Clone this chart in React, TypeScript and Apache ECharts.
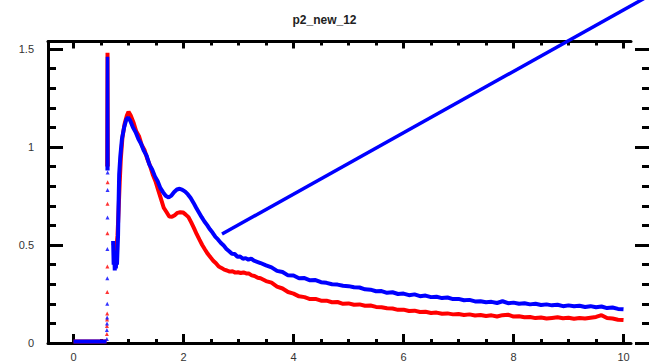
import React, { useEffect, useRef } from "react";
import * as echarts from "echarts";

const titleText = "p2_new_12";

const xMajor = [0, 2, 4, 6, 8, 10];
const xMinor = [0.5, 1, 1.5, 2.5, 3, 3.5, 4.5, 5, 5.5, 6.5, 7, 7.5, 8.5, 9, 9.5];
const yMajor = [0, 0.5, 1, 1.5];
const yMinor = [0.1, 0.2, 0.3, 0.4, 0.6, 0.7, 0.8, 0.9, 1.1, 1.2, 1.3, 1.4];

const redBase = [[0, 0.008], [0.6, 0.008]];
const blueBase = [[0, 0.008], [0.6, 0.008]];

const redSpike = [[0.612, 0.9], [0.618, 1.48], [0.624, 0.9]];
const blueSpike = [[0.612, 0.88], [0.618, 1.46], [0.624, 0.88]];

const redDots = [
  [0.606, 0.046], [0.608, 0.087], [0.61, 0.12], [0.612, 0.15], [0.613, 0.26],
  [0.615, 0.39], [0.617, 0.56], [0.618, 0.71], [0.62, 0.82],
];
const blueDots = [
  [0.606, 0.02], [0.607, 0.066], [0.609, 0.1], [0.611, 0.13], [0.613, 0.2],
  [0.614, 0.33], [0.616, 0.48], [0.618, 0.64], [0.619, 0.78], [0.62, 0.87],
];

const redCurve = [
  [0.72, 0.51], [0.74, 0.5], [0.76, 0.46], [0.78, 0.48], [0.8, 0.55], [0.82, 0.68],
  [0.84, 0.82], [0.86, 0.94], [0.89, 1.05], [0.93, 1.12], [0.97, 1.16], [1.0, 1.18],
  [1.04, 1.16], [1.09, 1.125], [1.14, 1.08], [1.19, 1.055], [1.24, 1.01], [1.29, 0.985],
  [1.34, 0.94], [1.39, 0.905], [1.44, 0.86], [1.49, 0.825], [1.54, 0.78], [1.59, 0.735],
  [1.64, 0.69], [1.69, 0.668], [1.74, 0.645], [1.79, 0.644], [1.84, 0.652], [1.89, 0.664],
  [1.94, 0.667], [1.99, 0.666], [2.04, 0.655], [2.09, 0.642], [2.14, 0.615], [2.19, 0.586],
  [2.24, 0.555], [2.29, 0.527], [2.34, 0.5], [2.39, 0.477], [2.44, 0.455], [2.49, 0.437],
  [2.54, 0.42], [2.59, 0.407], [2.64, 0.39], [2.69, 0.383], [2.74, 0.374], [2.79, 0.37],
  [2.84, 0.364], [2.89, 0.366], [2.94, 0.359], [2.99, 0.361], [3.04, 0.357], [3.09, 0.36],
  [3.14, 0.355], [3.19, 0.354], [3.24, 0.345], [3.29, 0.342], [3.35, 0.333],
  [3.4, 0.33], [3.5, 0.316], [3.6, 0.308], [3.7, 0.288], [3.8, 0.278], [3.9, 0.26],
  [4.0, 0.252], [4.1, 0.238], [4.2, 0.234], [4.3, 0.224], [4.4, 0.225], [4.5, 0.216],
  [4.6, 0.216], [4.7, 0.208], [4.8, 0.209], [4.9, 0.2], [5.0, 0.202], [5.1, 0.195],
  [5.2, 0.197], [5.3, 0.19], [5.4, 0.191], [5.5, 0.184], [5.6, 0.182], [5.7, 0.177],
  [5.8, 0.176], [5.9, 0.169], [6.0, 0.17], [6.1, 0.163], [6.2, 0.165], [6.3, 0.158],
  [6.4, 0.159], [6.5, 0.153], [6.6, 0.155], [6.7, 0.149], [6.8, 0.151], [6.9, 0.146],
  [7.0, 0.148], [7.1, 0.143], [7.2, 0.146], [7.3, 0.14], [7.4, 0.143], [7.5, 0.138],
  [7.6, 0.141], [7.7, 0.135], [7.8, 0.142], [7.9, 0.144], [8.0, 0.135], [8.1, 0.136],
  [8.2, 0.131], [8.3, 0.133], [8.4, 0.127], [8.5, 0.13], [8.6, 0.125], [8.7, 0.128],
  [8.8, 0.131], [8.9, 0.126], [9.0, 0.129], [9.1, 0.124], [9.2, 0.128], [9.3, 0.125],
  [9.4, 0.129], [9.5, 0.133], [9.6, 0.142], [9.7, 0.127], [9.8, 0.125], [9.9, 0.119],
  [10.0, 0.117],
];

const blueCurve = [
  [0.72, 0.52], [0.73, 0.4], [0.74, 0.47], [0.75, 0.37], [0.76, 0.45], [0.77, 0.38],
  [0.78, 0.44], [0.79, 0.4], [0.81, 0.55], [0.82, 0.72], [0.83, 0.86], [0.85, 0.95],
  [0.88, 1.04], [0.92, 1.1], [0.96, 1.14], [0.99, 1.15], [1.03, 1.135], [1.08, 1.1],
  [1.13, 1.075], [1.18, 1.04], [1.23, 1.015], [1.28, 0.98], [1.33, 0.955], [1.38, 0.91],
  [1.43, 0.885], [1.48, 0.85], [1.53, 0.825], [1.58, 0.79], [1.63, 0.768], [1.68, 0.75],
  [1.73, 0.743], [1.78, 0.752], [1.83, 0.77], [1.88, 0.783], [1.93, 0.787], [1.98, 0.781],
  [2.03, 0.772], [2.08, 0.758], [2.13, 0.74], [2.18, 0.716], [2.23, 0.69], [2.28, 0.666],
  [2.33, 0.642], [2.38, 0.62], [2.43, 0.601], [2.48, 0.58], [2.53, 0.562], [2.58, 0.541],
  [2.63, 0.527], [2.68, 0.51], [2.73, 0.497], [2.78, 0.48], [2.83, 0.468], [2.88, 0.455],
  [2.93, 0.454], [2.98, 0.44], [3.03, 0.441], [3.08, 0.43], [3.13, 0.433], [3.18, 0.425],
  [3.23, 0.43], [3.28, 0.42], [3.35, 0.413],
  [3.4, 0.408], [3.5, 0.396], [3.6, 0.386], [3.7, 0.368], [3.8, 0.362], [3.9, 0.345],
  [4.0, 0.344], [4.1, 0.33], [4.2, 0.331], [4.3, 0.32], [4.4, 0.321], [4.5, 0.31],
  [4.6, 0.307], [4.7, 0.3], [4.8, 0.298], [4.9, 0.292], [5.0, 0.29], [5.1, 0.284],
  [5.2, 0.283], [5.3, 0.274], [5.4, 0.272], [5.5, 0.264], [5.6, 0.265], [5.7, 0.256],
  [5.8, 0.259], [5.9, 0.25], [6.0, 0.252], [6.1, 0.244], [6.2, 0.248], [6.3, 0.239],
  [6.4, 0.242], [6.5, 0.234], [6.6, 0.236], [6.7, 0.229], [6.8, 0.232], [6.9, 0.224],
  [7.0, 0.225], [7.1, 0.218], [7.2, 0.22], [7.3, 0.212], [7.4, 0.213], [7.5, 0.208],
  [7.6, 0.21], [7.7, 0.204], [7.8, 0.213], [7.9, 0.203], [8.0, 0.206], [8.1, 0.2],
  [8.2, 0.203], [8.3, 0.197], [8.4, 0.2], [8.5, 0.194], [8.6, 0.197], [8.7, 0.192],
  [8.8, 0.195], [8.9, 0.188], [9.0, 0.192], [9.1, 0.187], [9.2, 0.19], [9.3, 0.184],
  [9.4, 0.188], [9.5, 0.182], [9.6, 0.186], [9.7, 0.178], [9.8, 0.181], [9.9, 0.174],
  [10.0, 0.172],
];

const blueSegment = [[2.7, 0.556], [10.6, 1.793]];

const X_MIN = -0.464;
const X_MAX = 10.136;
const Y_MIN = 0;
const Y_MAX = 1.538;
const GRID_LEFT = 48;
const GRID_WIDTH = 583;
const WIDE_WIDTH = 660;
const X_MAX_WIDE = X_MIN + ((X_MAX - X_MIN) * WIDE_WIDTH) / GRID_WIDTH;

const RED = "#ff0000";
const BLUE = "#0000ff";
const FONT = "Liberation Sans, Arial, sans-serif";

export default function App() {
  const ref = useRef<HTMLDivElement>(null);

  useEffect(() => {
    if (!ref.current) return;
    const chart = echarts.init(ref.current, null, { renderer: "svg" });

    const black = "#000";
    const xAxisBase = (position: string, show: boolean) => ({
      type: "value",
      gridIndex: 0,
      min: X_MIN,
      max: X_MAX,
      position,
      splitLine: { show: false },
      axisLine: { show, onZero: false, lineStyle: { color: black, width: 3 } },
    });
    const yAxisBase = (position: string, show: boolean, offset: number) => ({
      type: "value",
      gridIndex: 0,
      min: Y_MIN,
      max: Y_MAX,
      position,
      offset,
      splitLine: { show: false },
      axisLine: { show, onZero: false, lineStyle: { color: black, width: 3 } },
    });

    const lineSeries = (data: number[][], color: string, width: number) => ({
      type: "line",
      data,
      xAxisIndex: 0,
      yAxisIndex: 0,
      showSymbol: false,
      symbol: "none",
      lineStyle: { color, width },
      itemStyle: { color },
      silent: true,
    });
    const dotSeries = (data: number[][], color: string) => ({
      type: "scatter",
      data,
      xAxisIndex: 0,
      yAxisIndex: 0,
      symbol: "triangle",
      symbolSize: 4,
      itemStyle: { color },
      silent: true,
    });

    chart.setOption({
      animation: false,
      backgroundColor: "#fff",
      title: {
        text: titleText,
        left: "center",
        top: 9,
        textStyle: { fontFamily: FONT, fontSize: 12, fontWeight: "bold", color: "#222" },
      },
      grid: [
        { left: GRID_LEFT, top: 41.5, width: GRID_WIDTH, bottom: 20, containLabel: false, outerBoundsMode: "none" },
        { left: GRID_LEFT, top: 41.5, width: WIDE_WIDTH, bottom: 20, containLabel: false, outerBoundsMode: "none" },
      ],
      xAxis: [
        {
          ...xAxisBase("bottom", true),
          axisTick: { show: true, inside: true, length: 9, customValues: xMajor, lineStyle: { color: black, width: 3 } },
          axisLabel: { show: true, customValues: xMajor, margin: 8, fontFamily: FONT, fontSize: 11, color: "#333" },
        },
        {
          ...xAxisBase("bottom", false),
          axisTick: { show: true, inside: true, length: 4, customValues: xMinor, lineStyle: { color: black, width: 3 } },
          axisLabel: { show: false },
        },
        {
          ...xAxisBase("top", true),
          axisTick: { show: true, inside: true, length: 7, customValues: xMajor, lineStyle: { color: black, width: 3 } },
          axisLabel: { show: false },
        },
        {
          ...xAxisBase("top", false),
          axisTick: { show: true, inside: true, length: 4, customValues: xMinor, lineStyle: { color: black, width: 3 } },
          axisLabel: { show: false },
        },
        {
          type: "value",
          gridIndex: 1,
          min: X_MIN,
          max: X_MAX_WIDE,
          show: false,
        },
      ],
      yAxis: [
        {
          ...yAxisBase("left", true, 0),
          axisTick: { show: true, inside: true, length: 15, customValues: yMajor, lineStyle: { color: black, width: 3 } },
          axisLabel: { show: true, customValues: yMajor, margin: 14, fontFamily: FONT, fontSize: 11, color: "#333" },
        },
        {
          ...yAxisBase("left", false, 0),
          axisTick: { show: true, inside: true, length: 8, customValues: yMinor, lineStyle: { color: black, width: 3 } },
          axisLabel: { show: false },
        },
        {
          ...yAxisBase("right", true, 19),
          axisTick: { show: true, inside: true, length: 15, customValues: yMajor, lineStyle: { color: black, width: 3 } },
          axisLabel: { show: false },
        },
        {
          ...yAxisBase("right", false, 19),
          axisTick: { show: true, inside: true, length: 8, customValues: yMinor, lineStyle: { color: black, width: 3 } },
          axisLabel: { show: false },
        },
        {
          type: "value",
          gridIndex: 1,
          min: Y_MIN,
          max: Y_MAX,
          show: false,
        },
      ],
      series: [
        lineSeries(redBase, RED, 4),
        lineSeries(redSpike, RED, 4),
        dotSeries(redDots, RED),
        lineSeries(redCurve, RED, 4),
        lineSeries(blueBase, BLUE, 4),
        lineSeries(blueSpike, BLUE, 3.5),
        dotSeries(blueDots, BLUE),
        lineSeries(blueCurve, BLUE, 4),
        { ...lineSeries(blueSegment, BLUE, 3.5), xAxisIndex: 4, yAxisIndex: 4, clip: false },
      ],
    });

    return () => chart.dispose();
  }, []);

  return (
    <div
      ref={ref}
      style={{ position: "fixed", left: 0, top: 0, width: 649, height: 363, background: "#fff" }}
    />
  );
}
